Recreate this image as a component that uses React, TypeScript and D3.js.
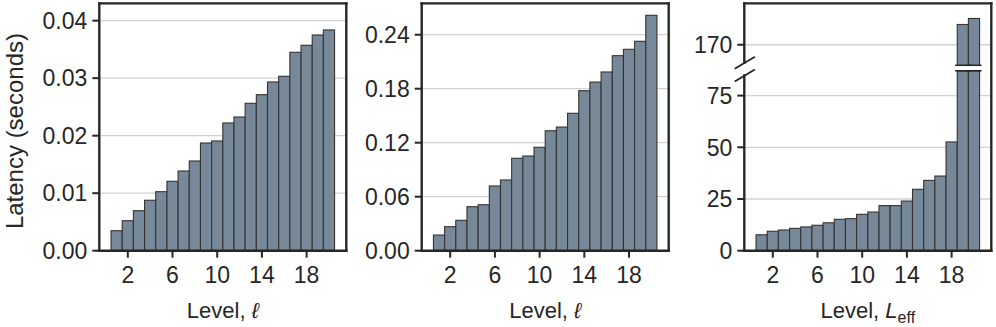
import * as d3 from "d3";

// levels 1..20, one bar per level
const levels = [1, 2, 3, 4, 5, 6, 7, 8, 9, 10, 11, 12, 13, 14, 15, 16, 17, 18, 19, 20];

// latency (seconds)
const latencyA = [0.00348, 0.00522, 0.00696, 0.00877, 0.01026, 0.01207, 0.01386, 0.0156, 0.01873, 0.01908, 0.02221, 0.02325, 0.02563, 0.02713, 0.02934, 0.03033, 0.0345, 0.03572, 0.03751, 0.03838];
const latencyB = [0.0174, 0.0267, 0.0338, 0.0489, 0.0511, 0.0719, 0.0786, 0.1027, 0.1052, 0.1149, 0.1333, 0.1374, 0.1527, 0.1778, 0.1874, 0.1986, 0.2167, 0.2238, 0.2327, 0.2616];
const latencyC = [7.7, 9.4, 10.0, 10.8, 11.5, 12.3, 13.5, 15.2, 15.5, 17.6, 18.7, 21.8, 21.8, 24.0, 29.7, 34.0, 36.1, 52.6, 179.8, 182.7];

const xTicks = [2, 6, 10, 14, 18];
const yTicksA = [0, 0.01, 0.02, 0.03, 0.04];
const yTicksB = [0, 0.06, 0.12, 0.18, 0.24];
const yTicksCLow = [0, 25, 50, 75];
const yTicksCHigh = [170];

const W = 996;
const H = 327;
const TOP = 3.4;
const BOTTOM = 250.7;
const PW = 247;
const FONT = "'Liberation Sans', Arial, Helvetica, sans-serif";
const INK = "#262626";
const BAR = "#778899";
const GRID = "#d2d2d2";
const TICK_FS = 23;

type Segment = {
  domain: [number, number];
  range: [number, number];
  ticks: number[];
  fmt: (v: number) => string;
};

type PanelProps = {
  left: number;
  values: number[];
  segments: Segment[];
  xlabel: "ell" | "leff";
  ylabel?: string;
};

const Panel = ({ left, values, segments, xlabel, ylabel }: PanelProps) => {
  const x = d3.scaleLinear().domain([-0.55, 21.55]).range([left, left + PW]);
  const right = left + PW;
  const scales = segments.map((s) => d3.scaleLinear().domain(s.domain).range(s.range));
  const broken = segments.length > 1;

  // left spine pieces + break marks
  let spine: JSX.Element[] = [];
  let marks: JSX.Element[] = [];
  if (!broken) {
    spine.push(<line key="ls" x1={left} x2={left} y1={TOP} y2={BOTTOM} />);
  } else {
    const lowTop = segments[0].range[1];
    const upBottom = segments[1].range[0];
    const mid = (lowTop + upBottom) / 2;
    const upC = mid - 5.3;
    const loC = mid + 7.4;
    spine.push(<line key="ls1" x1={left} x2={left} y1={TOP} y2={upC} />);
    spine.push(<line key="ls2" x1={left} x2={left} y1={loC} y2={BOTTOM} />);
    [upC, loC].forEach((c, i) =>
      spine.push(
        <line key={"sl" + i} x1={left - 8.8} x2={left + 9.8} y1={c + 5.5} y2={c - 5.5} strokeWidth={1.8} />
      )
    );
    // break lines across bars that cross the gap
    values.forEach((v, i) => {
      if (v > segments[1].domain[0]) {
        const x0 = x(levels[i] - 0.5);
        const x1 = x(levels[i] + 0.5);
        [lowTop, upBottom].forEach((yy, j) =>
          marks.push(
            <line key={`bk${i}-${j}`} x1={x0 - 2} x2={x1 + 2} y1={yy} y2={yy} stroke={INK} strokeWidth={1.6} />
          )
        );
        marks.push(
          <rect key={`wh${i}`} x={x0 - 2} y={upBottom + 0.8} width={x1 - x0 + 4} height={lowTop - upBottom - 1.6} fill="#fff" />
        );
      }
    });
  }

  return (
    <g>
      {/* grid */}
      {segments.map((s, si) =>
        s.ticks
          .filter((t) => t > s.domain[0])
          .map((t) => (
            <line key={`g${si}-${t}`} x1={left} x2={right} y1={scales[si](t)} y2={scales[si](t)} stroke={GRID} strokeWidth={1.3} />
          ))
      )}
      {/* bars */}
      {segments.map((s, si) =>
        values.map((v, i) => {
          if (v <= s.domain[0]) return null;
          const y0 = scales[si](s.domain[0]);
          const y1 = scales[si](Math.min(v, s.domain[1]));
          return (
            <rect
              key={`b${si}-${i}`}
              x={x(levels[i] - 0.5)}
              y={y1}
              width={x(levels[i] + 0.5) - x(levels[i] - 0.5)}
              height={y0 - y1}
              fill={BAR}
              stroke="#333"
              strokeWidth={1.1}
            />
          );
        })
      )}
      {marks}
      {/* frame */}
      <g stroke={INK} strokeWidth={2.4} fill="none" strokeLinecap="square">
        <line x1={left} x2={right} y1={TOP} y2={TOP} />
        <line x1={right} x2={right} y1={TOP} y2={BOTTOM} />
        <line x1={left} x2={right} y1={BOTTOM} y2={BOTTOM} />
        {spine}
      </g>
      {/* y ticks */}
      {segments.map((s, si) =>
        s.ticks.map((t) => (
          <g key={`yt${si}-${t}`}>
            <line x1={left - 7} x2={left} y1={scales[si](t)} y2={scales[si](t)} stroke={INK} strokeWidth={2} />
            <text x={left - 12} y={scales[si](t)} dy="0.36em" textAnchor="end" fontSize={TICK_FS} fill={INK} fontFamily={FONT}>
              {s.fmt(t)}
            </text>
          </g>
        ))
      )}
      {/* x ticks */}
      {xTicks.map((t) => (
        <g key={`xt${t}`}>
          <line x1={x(t)} x2={x(t)} y1={BOTTOM} y2={BOTTOM + 7} stroke={INK} strokeWidth={2} />
          <text x={x(t)} y={283} textAnchor="middle" fontSize={TICK_FS} fill={INK} fontFamily={FONT}>
            {t}
          </text>
        </g>
      ))}
      {/* x label */}
      <text x={(left + right) / 2} y={318} textAnchor="middle" fontSize={22} fill={INK} fontFamily={FONT}>
        {xlabel === "ell" ? (
          <>
            Level, <tspan fontStyle="italic">ℓ</tspan>
          </>
        ) : (
          <>
            Level, <tspan fontStyle="italic">L</tspan>
            <tspan fontSize={16} dy={5}>eff</tspan>
          </>
        )}
      </text>
      {ylabel && (
        <text
          transform={`translate(23,${(TOP + BOTTOM) / 2 + 4}) rotate(-90)`}
          textAnchor="middle"
          fontSize={24}
          fill={INK}
          fontFamily={FONT}
        >
          {ylabel}
        </text>
      )}
    </g>
  );
};

const App = () => {
  const f2 = d3.format(".2f");
  const f0 = d3.format("d");
  return (
    <svg width={W} height={H} style={{ position: "absolute", left: 0, top: 0, background: "#fff" }}>
      <Panel
        left={99.3}
        values={latencyA}
        segments={[{ domain: [0, 0.043], range: [BOTTOM, TOP], ticks: yTicksA, fmt: f2 }]}
        xlabel="ell"
        ylabel="Latency (seconds)"
      />
      <Panel
        left={421.7}
        values={latencyB}
        segments={[{ domain: [0, 0.2748], range: [BOTTOM, TOP], ticks: yTicksB, fmt: f2 }]}
        xlabel="ell"
      />
      <Panel
        left={744.3}
        values={latencyC}
        segments={[
          { domain: [0, 87], range: [BOTTOM, 70.8], ticks: yTicksCLow, fmt: f0 },
          { domain: [160, 190], range: [65.4, TOP], ticks: yTicksCHigh, fmt: f0 },
        ]}
        xlabel="leff"
      />
    </svg>
  );
};

export default App;
